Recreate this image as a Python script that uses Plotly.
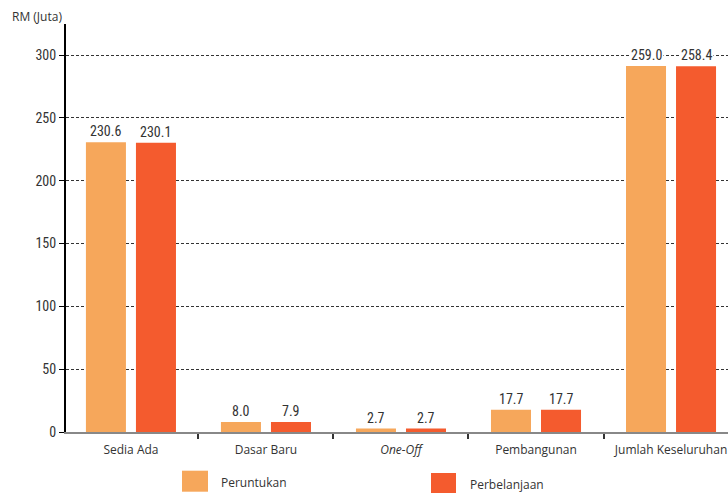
import plotly.graph_objects as go

categories = ["Sedia Ada", "Dasar Baru", "<i>One-Off</i>", "Pembangunan", "Jumlah Keseluruhan"]
series_names = ["Peruntukan", "Perbelanjaan"]
peruntukan_heights = [230.6, 8.0, 2.7, 17.7, 291.2]
peruntukan_labels = ["230.6", "8.0", "2.7", "17.7", "259.0"]
perbelanjaan_heights = [230.1, 7.9, 2.7, 17.7, 291.0]
perbelanjaan_labels = ["230.1", "7.9", "2.7", "17.7", "258.4"]
y_ticks = [0, 50, 100, 150, 200, 250, 300]
y_title = "RM (Juta)"

colors = ["#F6A75B", "#F45B2E"]
FONT = "Open Sans"
NUMFONT = "Roboto Condensed, DejaVu Sans Condensed, Open Sans"
TXT = "#333333"

EXTRA = 20
PAGE_W, PAGE_H = 728, 493
L, R, T, B = 66, 728, 24, 432
W, H = R - L, B - T
def px(x): return (x - L) / W
def py(y): return (B - y) / H

fig = go.Figure()
series = [
    (series_names[0], peruntukan_heights, peruntukan_labels, colors[0], -25),
    (series_names[1], perbelanjaan_heights, perbelanjaan_labels, colors[1], 25),
]
for name, h, lab, c, shift in series:
    fig.add_trace(go.Bar(
        name=name, x=categories, y=h,
        marker=dict(color=c, line=dict(width=0)),
        showlegend=False,
    ))
    for cat, val, t in zip(categories, h, lab):
        fig.add_annotation(x=cat, y=val, text=t, xshift=shift, yshift=1,
                           yanchor="bottom", showarrow=False, bgcolor="white",
                           borderpad=1,
                           font=dict(family=NUMFONT, size=14, color=TXT))

legend_items = [
    (182, 208, 470.7, 491.7, 219, 482),
    (431, 456, 473.0, 493.3, 468, 484),
]
for (x0, x1, y0, y1, tx, ty), name, c in zip(legend_items, series_names, colors):
    fig.add_shape(type="rect", xref="paper", yref="paper",
                  x0=px(x0), x1=px(x1), y0=py(y1), y1=py(y0),
                  fillcolor=c, line=dict(width=0))
    fig.add_annotation(text=name, xref="paper", yref="paper", x=px(tx), y=py(ty),
                       xanchor="left", yanchor="middle", showarrow=False,
                       font=dict(family=FONT, size=12, color=TXT))

fig.add_annotation(text=y_title, xref="paper", yref="paper", x=px(10), y=py(16),
                   xanchor="left", yanchor="middle", showarrow=False,
                   font=dict(family=FONT, size=12, color=TXT))

fig.update_layout(
    width=PAGE_W + EXTRA, height=PAGE_H,
    margin=dict(l=L, r=PAGE_W - R + EXTRA, t=T, b=PAGE_H - B, pad=0),
    paper_bgcolor="white", plot_bgcolor="white",
    barmode="group", bargap=0.259, bargroupgap=0.2,
    font=dict(family=FONT, size=13, color=TXT),
)
fig.update_xaxes(
    type="category", range=[-0.481, 4.422],
    showline=True, linecolor="#888888", linewidth=2,
    ticks="outside", tickson="boundaries", ticklen=5, tickcolor="#333333", tickwidth=2,
    ticklabelstandoff=6,
    showgrid=False, tickfont=dict(family=FONT, size=12, color=TXT),
)
fig.update_yaxes(
    range=[0, 324.7], tickvals=y_ticks,
    showline=True, linecolor="black", linewidth=2,
    ticks="outside", ticklen=5, tickcolor="black", tickwidth=1,
    showgrid=True, gridcolor="#333333", gridwidth=1, griddash="3px,2px",
    zeroline=False, tickfont=dict(family=NUMFONT, size=14, color=TXT),
)

fig.write_html(
    "out.html",
    config={"displayModeBar": False},
    post_script="document.documentElement.style.overflow='hidden';"
                "document.body.style.margin='0';document.body.style.overflow='hidden';",
)
